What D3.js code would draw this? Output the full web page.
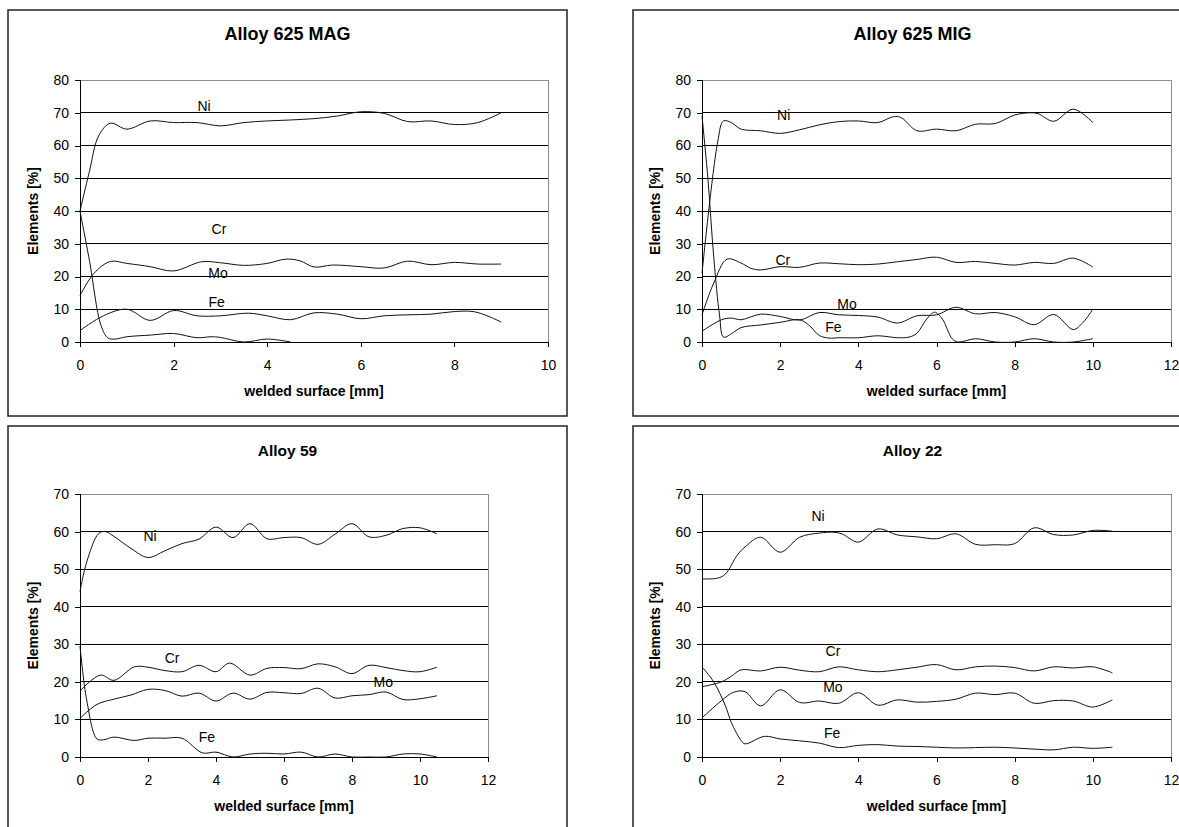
<!DOCTYPE html>
<html>
<head>
<meta charset="utf-8">
<script src="https://cdn.jsdelivr.net/npm/d3@7"></script>
<style>
body, html {
  margin: 0;
  padding: 0;
  background: #fff;
  font-family: "Liberation Sans", Arial, sans-serif;
}
.frame { fill: #fff; stroke: #222; stroke-width: 1.5; }
.plotarea { fill: none; stroke: #8c8c8c; stroke-width: 1; shape-rendering: crispEdges; }
.grid { stroke: #000; stroke-width: 1; shape-rendering: crispEdges; }
.axis path, .axis line { stroke: #000; shape-rendering: crispEdges; }
.axis text { font-size: 14px; font-family: "Liberation Sans", Arial, sans-serif; fill: #000; }
.curve { fill: none; stroke: #111; stroke-width: 1; }
.title { font-weight: bold; text-anchor: middle; }
.axis-title { font-weight: bold; font-size: 14px; text-anchor: middle; }
.series-label { font-size: 14px; text-anchor: middle; }
</style>
</head>
<body>
<svg id="chart" width="1179" height="827"></svg>
<script>

// ---- data: [welded surface mm, element %] ----
var magNi = [[0,40],[0.2,52],[0.4,63],[0.65,66.8],[1,65],[1.5,67.5],[2,67],[2.5,67],[3,66],[3.5,67],[4,67.5],[4.5,67.8],[5,68.2],[5.5,69],[6,70.3],[6.5,69.8],[7,67.3],[7.5,67.5],[8,66.4],[8.5,67],[9,70]];
var magCr = [[0,14.2],[0.3,21],[0.65,24.6],[1,24],[1.5,23],[2,21.7],[2.6,24.5],[3,24.2],[3.5,23.4],[4,24],[4.4,25.3],[4.7,24.8],[5,22.9],[5.4,23.5],[6,23],[6.5,22.6],[7,24.7],[7.5,23.6],[8,24.3],[8.5,23.8],[9,23.8]];
var magMo = [[0,3.5],[0.5,8],[1,10],[1.5,6.6],[2,9.6],[2.5,8],[3,8],[3.6,8.8],[4,8],[4.5,6.8],[5,8.9],[5.5,8.5],[6,7.1],[6.5,8],[7,8.3],[7.5,8.5],[8,9.3],[8.4,9.3],[8.7,8],[9,6.1]];
var magFe = [[0,40],[0.2,25],[0.45,5],[0.6,1.2],[0.75,0.9],[1,1.6],[1.5,2.1],[2,2.6],[2.5,1.3],[2.8,1.6],[3,1.4],[3.5,0],[4,0.9],[4.5,0]];

var migNi = [[0,21],[0.4,61],[0.55,67.5],[0.75,67],[1,65],[1.5,64.5],[2,63.7],[2.5,64.8],[3,66.3],[3.5,67.3],[4,67.5],[4.5,67],[4.9,68.8],[5.1,68.5],[5.5,64.5],[6,65],[6.5,64.5],[7,66.5],[7.5,66.7],[8,69.3],[8.4,70],[8.6,69.7],[9,67.4],[9.5,71.1],[10,67]];
var migCr = [[0,8.3],[0.3,18],[0.64,25.3],[1,24.1],[1.25,22.5],[1.5,22],[2,23],[2.5,22.8],[3,24.1],[3.5,23.9],[4,23.6],[4.5,23.8],[5,24.5],[5.5,25.2],[6,25.9],[6.5,24.3],[7,24.6],[7.5,24],[8,23.5],[8.5,24.3],[9,24],[9.5,25.6],[10,22.9]];
var migMo = [[0,3.3],[0.5,6.8],[0.75,7.3],[1,6.8],[1.5,8.5],[2,7.8],[2.5,6.7],[3,9],[3.5,8.3],[4,8.1],[4.5,7.6],[5,5.8],[5.5,8],[6,8.3],[6.5,10.6],[7,8.6],[7.5,9],[8,7.7],[8.5,5.3],[9,8.4],[9.5,3.8],[9.75,6],[10,10]];
var migFe = [[0,69],[0.15,50],[0.3,26],[0.45,8],[0.55,1.5],[0.75,2.5],[1,4.4],[1.5,5.2],[2,6],[2.5,6.8],[2.75,5],[3,2],[3.25,1.2],[3.5,1.3],[4,1.3],[4.5,1.9],[5,1.3],[5.3,1.5],[5.5,2.7],[5.75,7],[5.95,9.1],[6.15,7],[6.4,1],[6.55,0],[7,1],[7.5,0],[8,0],[8.5,1],[9,0],[9.5,0],[10,1]];

var a59Ni = [[0,44],[0.2,52],[0.55,59.5],[0.75,60],[1,58.7],[1.5,55.5],[2,53.1],[2.5,54.9],[3,56.8],[3.5,58],[4,61.2],[4.5,58.4],[5,62.1],[5.5,58.1],[6,58.4],[6.5,58.4],[7,56.6],[7.5,59.3],[8,62.1],[8.5,58.6],[9,59],[9.5,60.8],[10,61],[10.5,59.4]];
var a59Cr = [[0,17.6],[0.6,21.8],[1,20.4],[1.6,24],[2,23.9],[2.5,23],[3,22.7],[3.5,24.4],[4,22.7],[4.4,25],[5,21.8],[5.5,23.6],[6,23.8],[6.5,23.5],[7,24.8],[7.5,24],[8,22.2],[8.5,24.4],[9,23.8],[9.5,23],[10,22.7],[10.5,23.9]];
var a59Mo = [[0,10.3],[0.5,14],[1,15.4],[1.5,16.5],[2,18],[2.5,17.7],[3,16.2],[3.5,17],[4,14.9],[4.5,17],[5,15.4],[5.5,17.2],[6,17.1],[6.5,16.9],[7,18.3],[7.5,15.7],[8,16.3],[8.5,16.6],[9,17.3],[9.5,15.3],[10,15.5],[10.5,16.3]];
var a59Fe = [[0,29.5],[0.2,15],[0.5,4.8],[0.7,4.6],[1,5.3],[1.6,4.4],[2,5],[2.5,5],[3,5],[3.6,1.1],[4,1.3],[4.5,0],[5,0.8],[5.5,1],[6,0.8],[6.5,1.3],[7,0],[7.5,0.8],[8,0],[8.5,0],[9,0],[9.5,0.8],[10,0.8],[10.5,0]];

var a22Ni = [[0,47.4],[0.4,47.6],[0.6,48.7],[0.9,53.7],[1.1,55.9],[1.5,58.5],[2,54.5],[2.5,58.5],[3,59.6],[3.4,59.8],[3.6,59.3],[4,57.2],[4.5,60.7],[5,59.1],[5.5,58.6],[6,58.1],[6.5,59.4],[7,56.6],[7.5,56.5],[8,56.8],[8.5,61],[9,59.2],[9.5,59.1],[10,60.3],[10.5,60.1]];
var a22Cr = [[0,18.7],[0.5,20],[0.75,21.5],[1,23.2],[1.5,22.9],[2,23.9],[2.5,23.1],[3,22.7],[3.5,24],[4,23.2],[4.5,22.7],[5,23.2],[5.5,23.9],[6,24.6],[6.5,23.2],[7,24],[7.5,24.2],[8,23.8],[8.5,22.9],[9,24],[9.5,23.7],[10,24],[10.5,22.4]];
var a22Mo = [[0,10.4],[0.5,15],[0.8,17.2],[1.1,17.4],[1.5,13.6],[2,17.9],[2.5,14.5],[3,14.9],[3.5,14.3],[4,17.1],[4.5,13.8],[5,15.2],[5.5,14.6],[6,14.8],[6.5,15.4],[7,17],[7.5,16.6],[8,17],[8.5,14.3],[9,15],[9.5,14.9],[10,13.3],[10.5,15.2]];
var a22Fe = [[0,24],[0.3,20],[0.6,13.6],[0.75,9.2],[1,4.4],[1.1,3.5],[1.6,5.5],[2,4.8],[2.5,4.3],[3,3.7],[3.5,2.5],[4,3.1],[4.5,3.3],[5,2.9],[5.5,2.8],[6,2.6],[6.5,2.4],[7,2.5],[7.5,2.6],[8,2.4],[8.5,2.1],[9,1.9],[9.5,2.6],[10,2.3],[10.5,2.6]];

// series label anchors, in data units [element, mm, %]
var magLabels = [["Ni",2.65,72],["Cr",2.97,34.5],["Mo",2.95,21],["Fe",2.92,12.3]];
var migLabels = [["Ni",2.09,69.3],["Cr",2.07,25],["Mo",3.71,11.6],["Fe",3.36,4.5]];
var a59Labels = [["Ni",2.06,58.9],["Cr",2.71,26.4],["Mo",8.92,20],["Fe",3.73,5.3]];
var a22Labels = [["Ni",2.97,64.2],["Cr",3.35,28.3],["Mo",3.35,18.5],["Fe",3.33,6.3]];

var titles = ["Alloy 625 MAG", "Alloy 625 MIG", "Alloy 59", "Alloy 22"];
var xMax = [10, 12, 12, 12];
var yMax = [80, 80, 70, 70];
var xTitle = "welded surface [mm]";
var yTitle = "Elements [%]";

//--------------------------------------
var svg = d3.select("#chart");
var line = d3.line().curve(d3.curveCatmullRom.alpha(0.5));

function drawPanel(i, box, plot, titleSize, series, labels) {
  var g = svg.append("g");

  g.append("rect").attr("class", "frame")
    .attr("x", box.x).attr("y", box.y)
    .attr("width", box.w).attr("height", box.h);

  var x = d3.scaleLinear().domain([0, xMax[i]]).range([plot.x0, plot.x1]);
  var y = d3.scaleLinear().domain([0, yMax[i]]).range([plot.y1, plot.y0]);
  var yTicks = d3.range(0, yMax[i] + 1, 10);
  var xTicks = d3.range(0, xMax[i] + 1, 2);

  // plot area border (grey) and black gridlines
  g.append("rect").attr("class", "plotarea")
    .attr("x", plot.x0).attr("y", plot.y0)
    .attr("width", plot.x1 - plot.x0).attr("height", plot.y1 - plot.y0);
  g.selectAll("line.grid")
    .data(yTicks.filter(function(t) { return t > 0 && t < yMax[i]; }))
    .enter().append("line").attr("class", "grid")
    .attr("x1", plot.x0).attr("x2", plot.x1)
    .attr("y1", function(d) { return y(d); })
    .attr("y2", function(d) { return y(d); });

  g.append("g").attr("class", "axis")
    .attr("transform", "translate(" + plot.x0 + ",0)")
    .call(d3.axisLeft(y).tickValues(yTicks).tickSizeOuter(0).tickSize(5).tickPadding(6))
    .attr("font-size", null).attr("font-family", null);

  g.append("g").attr("class", "axis")
    .attr("transform", "translate(0," + plot.y1 + ")")
    .call(d3.axisBottom(x).tickValues(xTicks).tickSizeOuter(0).tickSize(5).tickPadding(13))
    .attr("font-size", null).attr("font-family", null);

  series.forEach(function(s) {
    g.append("path").attr("class", "curve")
      .attr("d", line(s.map(function(p) { return [x(p[0]), y(p[1])]; })));
  });

  labels.forEach(function(l) {
    g.append("text").attr("class", "series-label")
      .attr("x", x(l[1])).attr("y", y(l[2])).attr("dy", "0.35em")
      .text(l[0]);
  });

  g.append("text").attr("class", "title")
    .attr("x", box.x + box.w / 2).attr("y", box.y + 30)
    .style("font-size", titleSize + "px")
    .text(titles[i]);

  g.append("text").attr("class", "axis-title")
    .attr("x", (plot.x0 + plot.x1) / 2).attr("y", plot.y1 + 54)
    .text(xTitle);

  g.append("text").attr("class", "axis-title")
    .attr("transform", "translate(" + (plot.x0 - 47) + "," + ((plot.y0 + plot.y1) / 2) + ") rotate(-90)")
    .attr("dy", "0.35em")
    .text(yTitle);
}

drawPanel(0, {x: 8, y: 10, w: 559, h: 406}, {x0: 80, x1: 548, y0: 80, y1: 342}, 18,
  [magNi, magCr, magMo, magFe], magLabels);
drawPanel(1, {x: 633, y: 10, w: 559, h: 406}, {x0: 702, x1: 1171, y0: 80, y1: 342}, 18,
  [migNi, migCr, migMo, migFe], migLabels);
drawPanel(2, {x: 8, y: 426, w: 559, h: 420}, {x0: 80, x1: 488, y0: 494, y1: 757}, 15.5,
  [a59Ni, a59Cr, a59Mo, a59Fe], a59Labels);
drawPanel(3, {x: 633, y: 426, w: 559, h: 420}, {x0: 702, x1: 1171, y0: 494, y1: 757}, 15.5,
  [a22Ni, a22Cr, a22Mo, a22Fe], a22Labels);

</script>
</body>
</html>
